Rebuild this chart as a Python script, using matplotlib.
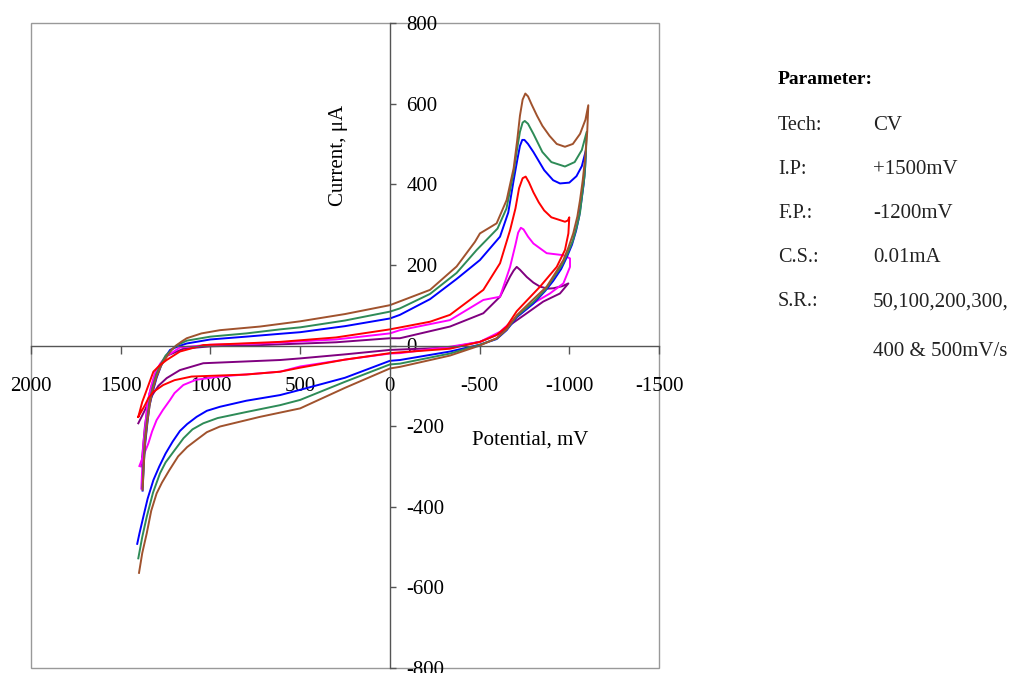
import matplotlib
matplotlib.use("Agg")
import matplotlib.pyplot as plt
from matplotlib.patches import Rectangle

plt.rcParams['font.family'] = ['Liberation Serif', 'DejaVu Serif']

# cyclic voltammograms, potential (mV) vs current (uA), one list pair per scan rate
sr50_x = [1385, 1365, 1340, 1300, 1240, 1150, 1000, 724, 300, 0, -56, -335, -521, -614, -670, -690, -707, -725, -763, -800, -837, -880, -911, -960, -995,
          -948, -855, -763, -670, -614, -502, -335, -56, 0, 250, 500, 612, 1040, 1170, 1244, 1290, 1318, 1345, 1365, 1402]
sr50_y = [-300, -200, -120, -60, -25, -8, -2, 1, 8, 18, 18, 47, 80, 121, 171, 186, 195, 188, 170, 156, 146, 141, 142, 147, 154,
          129, 109, 80, 51, 30, 9, -5, -10, -11, -22, -32, -36, -44, -61, -81, -100, -119, -140, -160, -193]

sr100_x = [1385, 1375, 1360, 1350, 1330, 1310, 1280, 1250, 1170, 1000, 724, 300, 0, -56, -335, -521, -614, -670, -700, -715, -730, -745, -770, -800, -874, -967, -1004,
           -1004, -967, -892, -800, -707, -614, -502, -335, -56, 0, 250, 500, 612, 947, 1080, 1151, 1200, 1225, 1265, 1300, 1325, 1346, 1375, 1396]
sr100_y = [-355, -250, -185, -140, -100, -70, -45, -28, -5, 2, 5, 15, 30, 38, 63, 113, 121, 195, 250, 280, 292, 288, 270, 253, 229, 224, 216,
           195, 154, 129, 105, 71, 34, 9, -3, -19, -20, -35, -52, -65, -77, -85, -98, -118, -135, -160, -185, -213, -243, -275, -299]

sr200_x = [1402, 1380, 1355, 1318, 1280, 1244, 1170, 1040, 612, 300, 0, -224, -335, -521, -614, -670, -700, -720, -740, -757, -775, -800, -830, -860, -900, -976, -992, -1000,
           -995, -976, -930, -837, -760, -707, -651, -595, -502, -335, -56, 0, 250, 500, 612, 800, 1105, 1200, 1263, 1318, 1345, 1365, 1402]
sr200_y = [-177, -140, -110, -65, -48, -36, -15, 1, 9, 20, 40, 59, 76, 138, 204, 286, 340, 390, 415, 419, 405, 380, 355, 335, 318, 307, 310, 318,
           278, 237, 195, 146, 110, 85, 47, 26, 9, -8, -17, -19, -35, -55, -65, -72, -77, -86, -98, -115, -130, -148, -177]

sr300_x = [1378, 1372, 1365, 1352, 1340, 1320, 1300, 1275, 1250, 1225, 1180, 1132, 1000, 800, 612, 500, 250, 0, -56, -224, -372, -502, -614, -660,
           -690, -710, -725, -738, -750, -770, -800, -860, -910, -948, -1000, -1040, -1070, -1093,
           -1088, -1080, -1068, -1055, -1038, -1015, -985, -955, -910, -865, -800, -707, -651, -595, -502, -335, -56, 0, 250, 500, 612, 800, 947, 1020,
           1077, 1130, 1170, 1210, 1250, 1285, 1318, 1350, 1374, 1395, 1408]
sr300_y = [-360, -300, -250, -195, -150, -112, -80, -50, -28, -11, -2, 5, 15, 22, 29, 33, 48, 67, 76, 115, 165, 212, 270, 330,
           410, 460, 495, 510, 510, 500, 480, 435, 410, 402, 404, 420, 445, 485,
           440, 400, 360, 320, 285, 250, 218, 190, 160, 135, 104, 70, 38, 16, 2, -15, -36, -38, -80, -110, -123, -137, -152, -162,
           -177, -195, -212, -238, -268, -300, -334, -380, -425, -465, -492]

sr400_x = [1378, 1372, 1365, 1352, 1337, 1320, 1300, 1275, 1250, 1190, 1132, 1000, 800, 612, 500, 250, 0, -56, -224, -372, -484, -600, -650,
           -690, -710, -725, -740, -752, -770, -800, -850, -900, -976, -1030, -1070, -1097,
           -1092, -1085, -1072, -1060, -1042, -1020, -990, -960, -915, -870, -800, -707, -651, -595, -502, -335, -56, 0, 250, 500, 612, 800, 960,
           1040, 1100, 1150, 1200, 1250, 1281, 1320, 1355, 1380, 1402]
sr400_y = [-350, -290, -230, -180, -135, -100, -70, -45, -25, 0, 12, 22, 30, 40, 45, 62, 84, 92, 128, 180, 237, 290, 340,
           430, 490, 530, 553, 557, 550, 525, 480, 455, 444, 455, 485, 530,
           470, 420, 375, 330, 295, 260, 228, 200, 170, 140, 108, 72, 40, 17, 2, -20, -45, -47, -90, -135, -148, -165, -180,
           -193, -208, -230, -260, -290, -317, -365, -425, -475, -528]

sr500_x = [1378, 1372, 1365, 1352, 1337, 1320, 1300, 1275, 1244, 1215, 1188, 1160, 1132, 1050, 947, 724, 500, 250, 0, -224, -372, -474, -502, -595, -651,
           -690, -710, -725, -740, -755, -770, -790, -820, -850, -890, -930, -976, -1020, -1060, -1090, -1106,
           -1100, -1087, -1075, -1060, -1045, -1022, -995, -967, -920, -874, -800, -707, -651, -595, -502, -335, -56, 0, 250, 500, 724, 947, 1020,
           1077, 1130, 1180, 1230, 1270, 1300, 1330, 1355, 1380, 1398]
sr500_y = [-358, -300, -242, -190, -143, -108, -77, -50, -28, -10, 1, 10, 18, 30, 38, 47, 60, 78, 100, 138, 196, 257, 278, 303, 361,
           440, 510, 570, 610, 625, 618, 598, 570, 545, 520, 500, 493, 500, 525, 560, 596,
           530, 460, 410, 361, 320, 278, 243, 212, 178, 146, 115, 75, 40, 18, 0, -25, -53, -57, -105, -156, -177, -201, -215,
           -234, -252, -275, -310, -340, -367, -410, -466, -515, -564]

x_ticks = [2000, 1500, 1000, 500, 0, -500, -1000, -1500]
y_ticks = [800, 600, 400, 200, 0, -200, -400, -600, -800]

param_names = ['Tech:', 'I.P:', 'F.P.:', 'C.S.:', 'S.R.:', '']
param_values = ['CV', '+1500mV', '-1200mV', '0.01mA', '50,100,200,300,', '400 & 500mV/s']

fig = plt.figure(figsize=(10.25, 6.73), dpi=100)
ax = fig.add_axes([31 / 1025, 5 / 673, 628 / 1025, 645 / 673])

ax.plot(sr50_x, sr50_y, color='#800080', lw=1.4)
ax.plot(sr100_x, sr100_y, color='#ff00ff', lw=1.4)
ax.plot(sr300_x, sr300_y, color='#0000ff', lw=1.4)
ax.plot(sr400_x, sr400_y, color='#2e8b57', lw=1.4)
ax.plot(sr500_x, sr500_y, color='#a0522d', lw=1.4)
ax.plot(sr200_x, sr200_y, color='#ff0000', lw=1.4)

ax.set_xlim(2000, -1500)
ax.set_ylim(-800, 800)

# axes cross through the origin, frame drawn separately
ax.spines['left'].set_position(('data', 0))
ax.spines['bottom'].set_position(('data', 0))
ax.spines['top'].set_visible(False)
ax.spines['right'].set_visible(False)
for s in ['left', 'bottom']:
    ax.spines[s].set_color('#555555')
    ax.spines[s].set_linewidth(1.0)
ax.add_patch(Rectangle((0, 0), 1, 1, transform=ax.transAxes, fill=False,
                       edgecolor='#999999', lw=1.0, clip_on=False))

ax.set_xticks(x_ticks)
ax.set_xticklabels([str(v) for v in x_ticks])
ax.set_yticks(y_ticks)
ax.set_yticklabels([str(v) for v in y_ticks])
ax.tick_params(axis='x', direction='out', length=6, width=1, color='#555555', pad=17, labelsize=15)
ax.tick_params(axis='y', direction='in', length=4, width=1, color='#555555', pad=-12, labelsize=15)
for lbl in ax.get_yticklabels():
    lbl.set_horizontalalignment('left')

fig.text(338 / 1025, 1 - 155 / 673, 'Current, μA', rotation=90, ha='center', va='center', fontsize=15)
fig.text(530 / 1025, 1 - 440 / 673, 'Potential, mV', ha='center', va='center', fontsize=15)

fig.text(778 / 1025, 1 - 80 / 673, 'Parameter:', fontweight='bold', ha='left', va='center', fontsize=14)
rows_y = [125, 170, 213, 258, 302, 352]
for name, val, py in zip(param_names, param_values, rows_y):
    fig.text(778 / 1025, 1 - py / 673, name, ha='left', va='center', fontsize=14.5, color='#222222')
    fig.text(873 / 1025, 1 - py / 673, val, ha='left', va='center', fontsize=15, color='#222222')

fig.savefig('out.png', dpi=100)
